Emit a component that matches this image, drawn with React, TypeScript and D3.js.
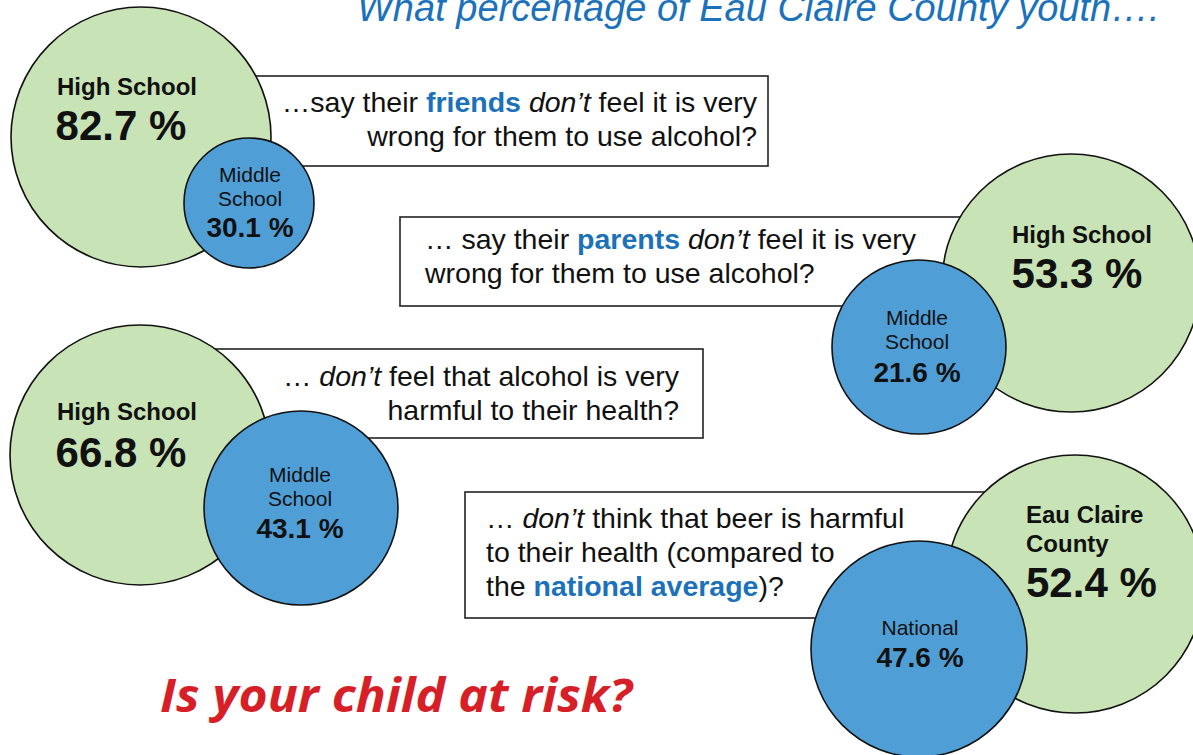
import * as d3 from "d3";

// survey values (percent)
const HIGH_LABELS = [["High School"], ["High School"], ["High School"], ["Eau Claire", "County"]];
const LOW_LABELS = [["Middle", "School"], ["Middle", "School"], ["Middle", "School"], ["National"]];
const HIGH_VALUES = [82.7, 53.3, 66.8, 52.4];
const LOW_VALUES = [30.1, 21.6, 43.1, 47.6];

type Seg = { t: string; b?: boolean; i?: boolean; blue?: boolean };

const QUESTIONS: Seg[][][] = [
  [
    [{ t: "…say their " }, { t: "friends", b: true, blue: true }, { t: " " }, { t: "don’t", i: true }, { t: " feel it is very" }],
    [{ t: "wrong for them to use alcohol?" }],
  ],
  [
    [{ t: "… say their " }, { t: "parents", b: true, blue: true }, { t: " " }, { t: "don’t", i: true }, { t: " feel it is very" }],
    [{ t: "wrong for them to use alcohol?" }],
  ],
  [
    [{ t: "… " }, { t: "don’t", i: true }, { t: " feel that alcohol is very" }],
    [{ t: "harmful to their health?" }],
  ],
  [
    [{ t: "… " }, { t: "don’t", i: true }, { t: " think that beer is harmful" }],
    [{ t: "to their health (compared to" }],
    [{ t: "the " }, { t: "national average", b: true, blue: true }, { t: ")?" }],
  ],
];

const TITLE = "What percentage of Eau Claire County youth….";
const TAGLINE = "Is your child at risk?";

// where each panel sits on the page
const PANELS = [
  {
    box: [180, 76, 588, 90], text: [757, 112], anchor: "end",
    big: [141, 137, 130], small: [249, 203, 65],
    bigLbl: [127, 95, 121, 140], bigAnchor: "middle", smallLbl: [250, 182, 237],
  },
  {
    box: [400, 217, 600, 89], text: [425, 249], anchor: "start",
    big: [1071, 283, 129], small: [919, 347, 87],
    bigLbl: [1082, 243, 1077, 288], bigAnchor: "middle", smallLbl: [917, 325, 382],
  },
  {
    box: [180, 349, 523, 89], text: [679, 386], anchor: "end",
    big: [140, 455, 130], small: [301, 508, 97],
    bigLbl: [127, 420, 121, 467], bigAnchor: "middle", smallLbl: [300, 482, 538],
  },
  {
    box: [465, 492, 540, 126], text: [486, 528], anchor: "start",
    big: [1075, 584, 129], small: [919, 649, 108],
    bigLbl: [1026, 523, 1026, 597], bigAnchor: "start", smallLbl: [920, 635, 667],
  },
];

const FONT = "'Liberation Sans', Arial, Helvetica, sans-serif";
const GREEN = "#c8e3b6";
const BLUE = "#4f9fd6";
const TEXT_BLUE = "#1b72ba";
const fmt = d3.format(".1f");

export default function App() {
  return (
    <svg
      width={1193}
      height={755}
      style={{ position: "absolute", left: 0, top: 0, background: "#fff" }}
      fontFamily={FONT}
    >
      <text x={357} y={21} fontSize={38} fontStyle="italic" fill={TEXT_BLUE}>
        {TITLE}
      </text>

      {PANELS.map((p, k) => {
        const [bx, by, bw, bh] = p.box;
        const [gx, gy, gr] = p.big;
        const [sx, sy, sr] = p.small;
        const [hx, hy, vx, vy] = p.bigLbl;
        const [mx, my, mvy] = p.smallLbl;
        return (
          <g key={k}>
            <rect x={bx} y={by} width={bw} height={bh} fill="#fff" stroke="#222" strokeWidth={1.6} />
            <g fontSize={28.5} fill="#111" textAnchor={p.anchor} style={{ whiteSpace: "pre" }}>
              {QUESTIONS[k].map((line, li) => (
                <text key={li} x={p.text[0]} y={p.text[1] + li * 34}>
                  {line.map((s, si) => (
                    <tspan
                      key={si}
                      fontWeight={s.b ? "bold" : "normal"}
                      fontStyle={s.i ? "italic" : "normal"}
                      fill={s.blue ? TEXT_BLUE : "#111"}
                    >
                      {s.t}
                    </tspan>
                  ))}
                </text>
              ))}
            </g>

            <circle cx={gx} cy={gy} r={gr} fill={GREEN} stroke="#111" strokeWidth={1.6} />
            <circle cx={sx} cy={sy} r={sr} fill={BLUE} stroke="#111" strokeWidth={1.6} />

            <g fill="#111" fontWeight="bold" textAnchor={p.bigAnchor}>
              {HIGH_LABELS[k].map((l, li) => (
                <text key={li} x={hx} y={hy + li * 29} fontSize={24}>
                  {l}
                </text>
              ))}
              <text x={vx} y={vy} fontSize={42}>
                {fmt(HIGH_VALUES[k])} %
              </text>
            </g>

            <g fill="#111" textAnchor="middle">
              {LOW_LABELS[k].map((l, li) => (
                <text key={li} x={mx} y={my + li * 24} fontSize={21}>
                  {l}
                </text>
              ))}
              <text x={mx} y={mvy} fontSize={28} fontWeight="bold">
                {fmt(LOW_VALUES[k])} %
              </text>
            </g>
          </g>
        );
      })}

      <text
        x={160}
        y={712}
        fontFamily="'Open Sans', sans-serif"
        fontSize={46}
        fontWeight={700}
        fontStyle="italic"
        fill="#d71f27"
        textLength={472}
        lengthAdjust="spacingAndGlyphs"
      >
        {TAGLINE}
      </text>
    </svg>
  );
}
